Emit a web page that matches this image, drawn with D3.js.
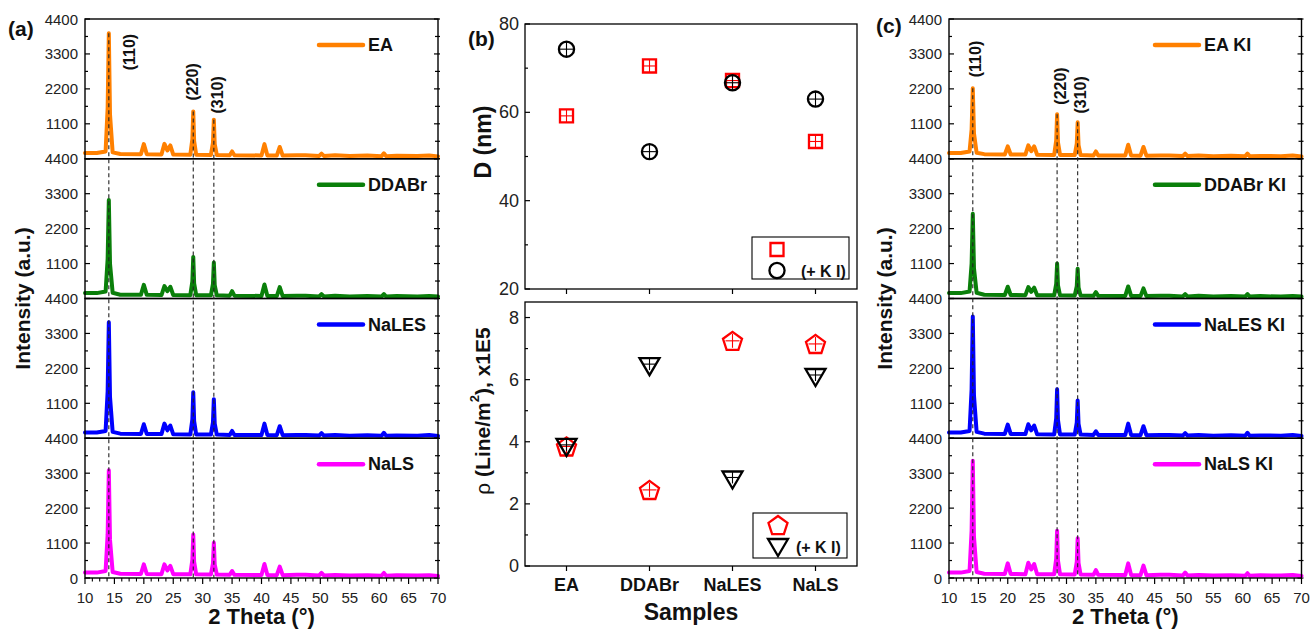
<!DOCTYPE html>
<html><head><meta charset="utf-8">
<script src="https://cdn.jsdelivr.net/npm/d3@7"></script>
<style>body{margin:0;background:#fff}svg{display:block}text{font-family:"Liberation Sans",Arial,sans-serif}</style>
</head><body><svg id="c" width="1311" height="630"></svg>
<script>
// ---------- DATA ----------
const theta = [10,12,13.5,13.85,14.05,14.25,14.7,16, 19.5,20,20.5, 23,23.5,24,24.5,25, 27.9,28.25,28.4,28.55,28.9, 31.4,31.75,31.9,32.05,32.4, 34.6,35,35.4, 40,40.5,41, 42.6,43.1,43.6, 46,47.5, 49.8,50.2,50.6, 52.5,55,58, 60.4,60.8,61.2, 63,66.5,68.5,70];
const namesA = ["EA","DDABr","NaLES","NaLS"];
const namesC = ["EA KI","DDABr KI","NaLES KI","NaLS KI"];
const colors = ["#ff8000","#0a7f0a","#0000ff","#ff00ff"];
const intEA    = [180,180,230,1600,3950,1400,200,150, 140,460,140, 135,470,260,420,130, 125,620,1490,560,125, 120,500,1230,460,120, 110,230,110, 105,460,105, 100,370,100, 110,110, 90,160,90, 110,85,100, 80,170,80, 95,85,105,75];
const intDDABr = [170,170,220,1250,3100,1100,180,120, 115,430,115, 110,390,230,370,110, 105,540,1310,480,105, 100,460,1130,420,100, 90,230,90, 80,440,80, 75,360,75, 85,85, 65,140,65, 85,65,80, 60,140,60, 75,60,80,60];
const intNaLES = [180,180,230,1480,3650,1300,200,145, 135,440,135, 130,460,250,400,125, 120,600,1450,540,120, 115,500,1230,460,115, 105,230,105, 100,460,100, 95,380,95, 105,105, 85,160,85, 105,80,95, 75,170,75, 90,80,100,70];
const intNaLS  = [170,170,220,1380,3390,1200,190,135, 125,430,125, 120,430,240,380,120, 115,570,1370,510,115, 110,460,1110,420,110, 100,220,100, 95,440,95, 90,360,90, 100,100, 80,160,80, 95,75,90, 70,160,70, 85,75,90,63];
const intEAKI    = [180,180,230,920,2220,800,190,145, 135,390,135, 130,420,240,390,125, 120,580,1400,520,120, 115,480,1150,430,115, 105,230,105, 100,440,100, 95,370,95, 105,105, 85,160,85, 100,80,95, 75,160,75, 90,80,100,70];
const intDDABrKI = [170,170,220,1100,2670,950,180,120, 110,370,110, 105,360,210,340,105, 100,460,1100,410,100, 95,390,940,350,95, 85,200,85, 80,380,80, 75,320,75, 85,85, 65,140,65, 85,65,80, 60,140,60, 75,60,80,60];
const intNaLESKI = [180,180,230,1550,3830,1350,200,145, 135,430,135, 130,440,250,400,125, 120,630,1540,570,120, 115,490,1190,450,115, 105,220,105, 100,460,100, 95,380,95, 105,105, 85,160,85, 100,80,95, 75,170,75, 90,80,100,70];
const intNaLSKI  = [170,170,220,1500,3690,1300,190,135, 125,460,125, 120,480,270,440,120, 115,610,1490,550,115, 110,510,1250,470,110, 100,250,100, 95,460,95, 90,390,90, 100,100, 80,170,80, 95,75,90, 70,150,70, 85,75,95,63];
const peakTheta = [14.05, 28.4, 31.9];
const peakLabels = ["(110)","(220)","(310)"];
const yTicksXRD = [0,1100,2200,3300,4400];
const xTicksXRD = [10,15,20,25,30,35,40,45,50,55,60,65,70];

const samples = ["EA","DDABr","NaLES","NaLS"];
const D_noKI = [59.2, 70.5, 67.2, 53.4];
const D_KI   = [74.3, 51.1, 66.7, 63.0];
const rho_noKI = [3.85, 2.45, 7.25, 7.15];
const rho_KI   = [3.9, 6.5, 2.85, 6.15];
const dTicks = [20,40,60,80];
const rhoTicks = [0,2,4,6,8];

// ---------- DRAW ----------
const svg = d3.select("#c");

function drawXRD(opt){
  const {x0,x1,top,bottom,names,sets,labTheta,labInt,letter,letterX,letterY,legX,titleX} = opt;
  const subH = (bottom-top)/4;
  const xs = d3.scaleLinear().domain([10,70]).range([x0,x1]);
  const g = svg.append("g");
  const yScales = [];
  for(let i=0;i<4;i++){
    const ys = d3.scaleLinear().domain([0,4400]).range([top+(i+1)*subH, top+i*subH]);
    yScales.push(ys);
    const minor = d3.range(550,4400,1100);
    yTicksXRD.forEach(v=>{
      g.append("line").attr("x1",x0).attr("x2",x0+5).attr("y1",ys(v)).attr("y2",ys(v)).attr("stroke","#000").attr("stroke-width",1.2);
      g.append("line").attr("x1",x1-4).attr("x2",x1+2).attr("y1",ys(v)).attr("y2",ys(v)).attr("stroke","#000").attr("stroke-width",1.2);
      if(v!==0 || i===3){
        g.append("text").attr("x",x0-7).attr("y",ys(v)).attr("text-anchor","end").attr("dominant-baseline","central")
          .attr("font-size",15).attr("fill","#222").text(v);
      }
    });
    minor.forEach(v=>{
      g.append("line").attr("x1",x0).attr("x2",x0+3).attr("y1",ys(v)).attr("y2",ys(v)).attr("stroke","#000").attr("stroke-width",1.2);
      g.append("line").attr("x1",x1-3).attr("x2",x1+2).attr("y1",ys(v)).attr("y2",ys(v)).attr("stroke","#000").attr("stroke-width",1.2);
    });
    const line = d3.line().x((d,k)=>xs(theta[k])).y(d=>ys(d)).curve(d3.curveLinear);
    g.append("path").datum(sets[i]).attr("d",line).attr("fill","none").attr("stroke",colors[i])
      .attr("stroke-width",4).attr("stroke-linejoin","round").attr("stroke-linecap","round");
    const ly = top+i*subH+26;
    g.append("line").attr("x1",legX).attr("x2",legX+44).attr("y1",ly).attr("y2",ly).attr("stroke",colors[i]).attr("stroke-width",4.5).attr("stroke-linecap","round");
    g.append("text").attr("x",legX+49).attr("y",ly).attr("dominant-baseline","central").attr("font-size",18).attr("font-weight","bold").attr("fill","#111").text(names[i]);
    g.append("rect").attr("x",x0).attr("y",top+i*subH).attr("width",x1-x0).attr("height",subH).attr("fill","none").attr("stroke","#000").attr("stroke-width",1.4);
  }
  peakTheta.forEach((p,j)=>{
    const k = theta.indexOf(p);
    g.append("line").attr("x1",xs(p)).attr("x2",xs(p)).attr("y1",yScales[0](sets[0][k])).attr("y2",bottom)
      .attr("stroke","#222").attr("stroke-width",1.1).attr("stroke-dasharray","4,3");
    g.append("text").attr("transform",`translate(${xs(labTheta[j])},${yScales[0](labInt[j])}) rotate(-90)`)
      .attr("text-anchor","middle").attr("dominant-baseline","central").attr("font-size",16).attr("font-weight","bold").attr("fill","#111").text(peakLabels[j]);
  });
  xTicksXRD.forEach(v=>{
    g.append("line").attr("x1",xs(v)).attr("x2",xs(v)).attr("y1",bottom).attr("y2",bottom+6).attr("stroke","#000").attr("stroke-width",1.2);
    g.append("text").attr("x",xs(v)).attr("y",bottom+19).attr("text-anchor","middle").attr("dominant-baseline","central").attr("font-size",15).attr("fill","#222").text(v);
  });
  d3.range(11.25,70,1.25).filter(v=>Math.abs(v/5-Math.round(v/5))>1e-6).forEach(v=>{
    g.append("line").attr("x1",xs(v)).attr("x2",xs(v)).attr("y1",bottom).attr("y2",bottom+3.5).attr("stroke","#000").attr("stroke-width",1.1);
  });
  g.append("text").attr("x",(x0+x1)/2).attr("y",bottom+46).attr("text-anchor","middle").attr("font-size",22).attr("font-weight","bold").attr("fill","#111").text("2 Theta (°)");
  g.append("text").attr("transform",`translate(${titleX},${(top+bottom)/2}) rotate(-90)`).attr("text-anchor","middle").attr("dominant-baseline","central")
    .attr("font-size",21).attr("font-weight","bold").attr("fill","#111").text("Intensity (a.u.)");
  g.append("text").attr("x",letterX).attr("y",letterY).attr("font-size",21).attr("font-weight","bold").attr("fill","#111").text(letter);
}

drawXRD({x0:85,x1:438,top:19,bottom:578,names:namesA,sets:[intEA,intDDABr,intNaLES,intNaLS],
  labTheta:[17.5,28.2,32.6],labInt:[3360,2420,2010],letter:"(a)",letterX:8,letterY:36,legX:319,titleX:22});
drawXRD({x0:949,x1:1301.5,top:19,bottom:578,names:namesC,sets:[intEAKI,intDDABrKI,intNaLESKI,intNaLSKI],
  labTheta:[14.5,28.95,32.35],labInt:[3140,2290,2010],letter:"(c)",letterX:876,letterY:33,legX:1155,titleX:884});

// ---------- middle panel ----------
const mx0=525, mx1=857;
const xc = d3.scaleLinear().domain([0.5,4.5]).range([mx0,mx1]);
const yD = d3.scaleLinear().domain([20,80]).range([289,24]);
const yR = d3.scaleLinear().domain([0,8.5]).range([566,302]);
const mg = svg.append("g");

function frameAxes(ys, ticks, minors, top, bottom){
  mg.append("rect").attr("x",mx0).attr("y",top).attr("width",mx1-mx0).attr("height",bottom-top).attr("fill","none").attr("stroke","#000").attr("stroke-width",1.3);
  ticks.forEach(v=>{
    mg.append("line").attr("x1",mx0).attr("x2",mx0+5).attr("y1",ys(v)).attr("y2",ys(v)).attr("stroke","#000").attr("stroke-width",1.2);
    mg.append("text").attr("x",mx0-6).attr("y",ys(v)).attr("text-anchor","end").attr("dominant-baseline","central").attr("font-size",18).attr("fill","#222").text(v);
  });
  minors.forEach(v=>{
    mg.append("line").attr("x1",mx0).attr("x2",mx0+3).attr("y1",ys(v)).attr("y2",ys(v)).attr("stroke","#000").attr("stroke-width",1.2);
  });
  samples.forEach((s,i)=>{
    mg.append("line").attr("x1",xc(i+1)).attr("x2",xc(i+1)).attr("y1",bottom).attr("y2",bottom+5).attr("stroke","#000").attr("stroke-width",1.2);
  });
}
frameAxes(yD, dTicks, [30,50,70], 24, 289);
frameAxes(yR, rhoTicks, [1,3,5,7], 302, 566);

samples.forEach((s,i)=>{
  mg.append("text").attr("x",xc(i+1)).attr("y",585).attr("text-anchor","middle").attr("dominant-baseline","central").attr("font-size",18).attr("font-weight","bold").attr("fill","#111").text(s);
});
mg.append("text").attr("x",(mx0+mx1)/2).attr("y",620).attr("text-anchor","middle").attr("font-size",23).attr("font-weight","bold").attr("fill","#111").text("Samples");
mg.append("text").attr("transform",`translate(483,142) rotate(-90)`).attr("text-anchor","middle").attr("dominant-baseline","central").attr("font-size",23).attr("font-weight","bold").attr("fill","#111").text("D (nm)");
const rt = mg.append("text").attr("transform",`translate(482,411) rotate(-90)`).attr("text-anchor","middle").attr("dominant-baseline","central").attr("font-size",21).attr("font-weight","bold").attr("fill","#111");
rt.append("tspan").attr("font-weight","normal").text("ρ");
rt.append("tspan").text(" (Line/m");
rt.append("tspan").attr("font-size",13).attr("dy",-8).text("2");
rt.append("tspan").attr("dy",8).text("), x1E5");
mg.append("text").attr("x",468).attr("y",46).attr("font-size",21).attr("font-weight","bold").attr("fill","#111").text("(b)");

function pentagon(r){ return d3.line()(d3.range(5).map(k=>{const a=-Math.PI/2+k*2*Math.PI/5; return [r*Math.cos(a), r*Math.sin(a)+1];}))+"Z"; }
const triDown = "M-10,-6L10,-6L0,11Z";
function marker(g, type, color, cx, cy, withPlus, hw){
  const t = g.append("g").attr("transform",`translate(${cx},${cy})`);
  let d;
  if(type==="square") d = d3.symbol(d3.symbolSquare, 170)();
  else if(type==="circle") d = d3.symbol(d3.symbolCircle, 180)();
  else if(type==="pent") d = pentagon(10);
  else d = triDown;
  t.append("path").attr("d",d).attr("fill","none").attr("stroke",color).attr("stroke-width",2.3);
  if(withPlus){
    t.append("line").attr("x1",-hw).attr("x2",hw).attr("y1",0).attr("y2",0).attr("stroke",color).attr("stroke-width",1.1);
    t.append("line").attr("x1",0).attr("x2",0).attr("y1",-hw).attr("y2",hw).attr("stroke",color).attr("stroke-width",1.1);
  }
}
samples.forEach((s,i)=>{
  marker(mg,"square","#ff0000",xc(i+1),yD(D_noKI[i]),true,6.5);
  marker(mg,"circle","#000",xc(i+1),yD(D_KI[i]),true,7.5);
  marker(mg,"pent","#ff0000",xc(i+1),yR(rho_noKI[i]),true,7);
  marker(mg,"tri","#000",xc(i+1),yR(rho_KI[i]),true,6);
});
mg.append("rect").attr("x",752).attr("y",237).attr("width",97).attr("height",42).attr("fill","#fff").attr("stroke","#000").attr("stroke-width",1.1);
marker(mg,"square","#ff0000",777,249.5,false);
marker(mg,"circle","#000",777,270.5,false);
mg.append("text").attr("x",801).attr("y",271).attr("dominant-baseline","central").attr("font-size",16).attr("font-weight","bold").attr("fill","#111").text("(+ K I)");
mg.append("rect").attr("x",753).attr("y",513).attr("width",94).attr("height",45).attr("fill","#fff").attr("stroke","#000").attr("stroke-width",1.1);
marker(mg,"pent","#ff0000",778,525,false);
marker(mg,"tri","#000",778,545,false);
mg.append("text").attr("x",796).attr("y",547).attr("dominant-baseline","central").attr("font-size",16).attr("font-weight","bold").attr("fill","#111").text("(+ K I)");
</script></body></html>
